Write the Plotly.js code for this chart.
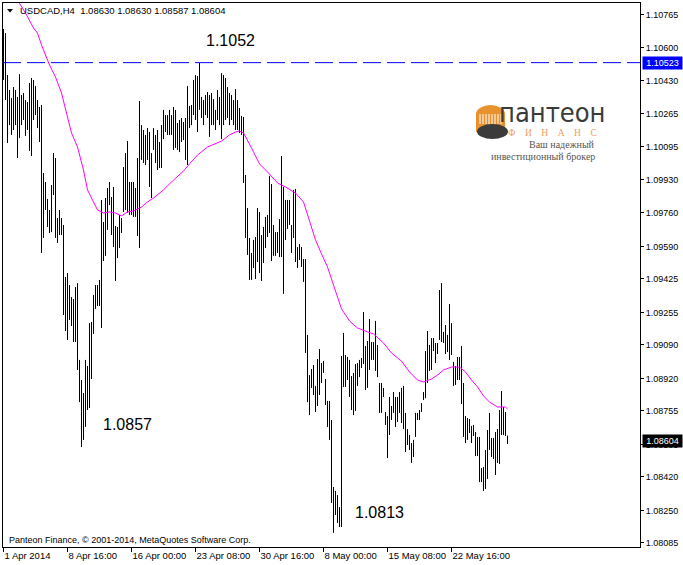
<!DOCTYPE html>
<html><head><meta charset="utf-8">
<script src="https://cdn.plot.ly/plotly-3.0.1.min.js"></script>
<style>html,body{margin:0;padding:0;background:#fff;}#chart{width:683px;height:565px;}</style>
</head><body><div id="chart"></div>
<script>
// ---- data (USDCAD H4 bars, high / low) ----
const barHighs = [
1.10694,1.10673,1.10460,1.10384,1.10344,1.10399,1.10384,1.10349,1.10465,1.10359,
1.10369,1.10333,1.10323,1.10420,1.10445,1.10435,1.10404,1.10333,1.10298,1.10308,
1.09963,1.09917,1.09831,1.09775,1.09902,1.10064,1.10039,1.09734,1.09775,1.09734,
1.09699,1.09435,1.09455,1.09394,1.09333,1.09323,1.09384,1.09404,1.09014,1.08912,
1.08846,1.09014,1.08983,1.09201,1.09207,1.09344,1.09394,1.09394,1.09420,1.09826,
1.09714,1.09836,1.09887,1.09917,1.09841,1.09892,1.09694,1.09689,1.09750,1.09734,
1.09993,1.10064,1.10125,1.09917,1.09917,1.09917,1.09887,1.10039,1.10328,1.10206,
1.10181,1.10156,1.10191,1.10171,1.10064,1.10191,1.10156,1.10181,1.10120,1.10206,
1.10283,1.10257,1.10257,1.10283,1.10257,1.10298,1.10283,1.10217,1.10232,1.10242,
1.10222,1.10242,1.10404,1.10303,1.10308,1.10435,1.10460,1.10455,1.10521,1.10349,
1.10333,1.10359,1.10374,1.10359,1.10369,1.10338,1.10283,1.10384,1.10349,1.10470,
1.10460,1.10445,1.10399,1.10369,1.10359,1.10333,1.10389,1.10333,1.10293,1.10252,
1.10247,1.09953,1.09785,1.09633,1.09557,1.09623,1.09638,1.09785,1.09765,1.09648,
1.09689,1.09740,1.09750,1.09948,1.09907,1.09699,1.09663,1.09663,1.09729,1.10049,
1.09892,1.09826,1.09826,1.09826,1.09699,1.09877,1.09882,1.09587,1.09602,1.09587,
1.09526,1.09526,1.09141,1.08937,1.08968,1.08988,1.08882,1.09019,1.09069,1.08998,
1.09009,1.08917,1.08806,1.08806,1.08709,1.08369,1.08349,1.08328,1.08267,1.09034,
1.09151,1.09039,1.09029,1.09014,1.08932,1.08948,1.08993,1.08998,1.09014,1.09024,
1.09257,1.09085,1.09110,1.09222,1.09105,1.09105,1.09212,1.09090,1.08897,1.08897,
1.08872,1.08750,1.08729,1.08826,1.08780,1.08851,1.08826,1.08826,1.08851,1.08872,
1.08882,1.08745,1.08663,1.08633,1.08592,1.08608,1.08745,1.08745,1.08760,1.08795,
1.08851,1.09059,1.09161,1.09090,1.09125,1.09125,1.09100,1.09100,1.09369,1.09404,
1.09156,1.09191,1.09141,1.09298,1.09201,1.09004,1.08983,1.09029,1.09029,1.09085,
1.08897,1.08729,1.08719,1.08714,1.08679,1.08684,1.08648,1.08623,1.08623,1.08465,
1.08470,1.08557,1.08658,1.08745,1.08618,1.08618,1.08648,1.08663,1.08760,1.08856,
1.08775,1.08750,1.08630];
const barLows = [
1.10435,1.10333,1.10115,1.10206,1.10156,1.10181,1.10206,1.10039,1.10141,1.10206,
1.10232,1.10151,1.10181,1.10075,1.10049,1.10232,1.10257,1.10191,1.10120,1.09557,
1.09633,1.09775,1.09689,1.09658,1.09663,1.09851,1.09633,1.09608,1.09648,1.09648,
1.09242,1.09161,1.09115,1.09217,1.09186,1.09105,1.09105,1.08963,1.08800,1.08572,
1.08608,1.08674,1.08760,1.08770,1.08917,1.09146,1.09273,1.09288,1.09288,1.09176,
1.09516,1.09542,1.09674,1.09800,1.09648,1.09587,1.09415,1.09531,1.09582,1.09658,
1.09765,1.09775,1.09760,1.09750,1.09750,1.09740,1.09740,1.09643,1.09582,1.10029,
1.10014,1.10003,1.10029,1.09892,1.09836,1.10080,1.10014,1.09978,1.09988,1.09988,
1.10135,1.10171,1.10156,1.10156,1.10156,1.10080,1.10090,1.10080,1.10069,1.10120,
1.10130,1.10029,1.10003,1.10191,1.10206,1.10257,1.10232,1.10171,1.10283,1.10242,
1.10206,1.10257,1.10242,1.10146,1.10206,1.10206,1.10181,1.10232,1.10206,1.10135,
1.10206,1.10232,1.10242,1.10206,1.10232,1.10206,1.10181,1.10181,1.10166,1.10156,
1.09912,1.09633,1.09547,1.09420,1.09420,1.09481,1.09425,1.09511,1.09455,1.09415,
1.09506,1.09582,1.09638,1.09658,1.09516,1.09542,1.09542,1.09557,1.09536,1.09536,
1.09349,1.09623,1.09679,1.09699,1.09557,1.09633,1.09511,1.09481,1.09521,1.09486,
1.09410,1.09049,1.08800,1.08734,1.08872,1.08836,1.08750,1.08780,1.08836,1.08897,
1.08948,1.08785,1.08674,1.08608,1.08288,1.08136,1.08227,1.08186,1.08166,1.08166,
1.08877,1.08877,1.08912,1.08826,1.08760,1.08734,1.08755,1.08882,1.08927,1.08973,
1.08993,1.08861,1.08872,1.08963,1.09014,1.09014,1.08958,1.08927,1.08745,1.08745,
1.08826,1.08684,1.08516,1.08633,1.08709,1.08745,1.08674,1.08699,1.08745,1.08694,
1.08663,1.08547,1.08582,1.08557,1.08491,1.08521,1.08623,1.08709,1.08709,1.08750,
1.08811,1.08820,1.08897,1.08958,1.08963,1.09059,1.08998,1.09044,1.09115,1.09105,
1.09100,1.09044,1.09054,1.09014,1.09039,1.08882,1.08887,1.08912,1.08912,1.08790,
1.08623,1.08592,1.08608,1.08643,1.08592,1.08628,1.08526,1.08526,1.08394,1.08394,
1.08349,1.08359,1.08410,1.08557,1.08521,1.08511,1.08430,1.08491,1.08486,1.08633,
1.08633,1.08628,1.08587];

// moving average (magenta), read at selected bars
const maBars = [7,11,15,17,19,23,26,29,32,34,37,40,42,45,47,50,53,56,59,62,65,69,72,75,80,85,90,93,97,102,
109,113,116,118,120,124,128,132,137,141,146,150,153,156,159,162,165,167,169,173,177,182,185,190,194,199,
203,207,210,214,217,220,224,228,231,234,237,240,243,247,251,252];
const maValues = [1.10841,1.10775,1.10699,1.10673,1.10613,1.10511,1.10450,1.10369,1.10247,1.10166,1.10095,
1.09978,1.09877,1.09811,1.09775,1.09760,1.09765,1.09760,1.09745,1.09765,1.09770,1.09790,1.09816,1.09836,
1.09877,1.09927,1.09973,1.10009,1.10054,1.10095,1.10125,1.10156,1.10171,1.10176,1.10166,1.10090,1.10009,
1.09968,1.09912,1.09892,1.09861,1.09816,1.09724,1.09623,1.09552,1.09486,1.09394,1.09328,1.09273,1.09212,
1.09176,1.09156,1.09146,1.09100,1.09049,1.09008,1.08953,1.08912,1.08902,1.08917,1.08937,1.08963,1.08978,
1.08978,1.08953,1.08912,1.08877,1.08831,1.08800,1.08775,1.08775,1.08765];

const timeTickBars = [0,32,64,96,128,160,192,224];
const timeTickLabels = ["1 Apr 2014","8 Apr 16:00","16 Apr 00:00","23 Apr 08:00","30 Apr 16:00","8 May 00:00","15 May 08:00","22 May 16:00"];
const priceTicks = [1.10765,1.10600,1.10430,1.10265,1.10095,1.09930,1.09760,1.09590,1.09425,1.09255,1.09090,1.08920,1.08755,1.08585,1.08420,1.08250,1.08085];
const symbolInfo = "USDCAD,H4\u00a0\u00a01.08630 1.08630 1.08587 1.08604";
const levelPrice = 1.10523;
const lastPrice = 1.08604;
const extremeLabels = ["1.1052","1.0857","1.0813"];
const copyrightText = "Panteon Finance, \u00a9 2001-2014, MetaQuotes Software Corp.";

// ---- layout geometry ----
const W = 683, H = 565, ML = 3, MT = 3, MR = 43, MB = 18;
const PW = W - ML - MR, PH = H - MT - MB;
const px = x => (x - ML) / PW;
const py = y => 1 - (y - MT) / PH;
const yTop = 1.108258, yBot = 1.080644;
const pOf = y => yTop - (y - MT) / PH * (yTop - yBot);

const FONT = "Liberation Sans, Arial, sans-serif";

// each bar drawn as a vertical high-low segment
const segX = [], segY = [];
barHighs.forEach((h, i) => { segX.push(i, i, null); segY.push(barLows[i], h, null); });

const traces = [
  {type: 'scatter', mode: 'lines', x: segX, y: segY, connectgaps: false,
   line: {color: '#000000', width: 1}, hoverinfo: 'skip'},
  {type: 'scatter', mode: 'lines', x: maBars, y: maValues,
   line: {color: '#ff00ff', width: 1}, hoverinfo: 'skip'}
];

const shapes = [
  {type: 'line', xref: 'paper', yref: 'y', x0: 0, x1: 1, y0: levelPrice, y1: levelPrice,
   line: {color: '#0000ff', width: 1, dash: '18px,6px'}},
  // title triangle
  {type: 'path', xref: 'paper', yref: 'paper',
   path: `M ${px(7)} ${py(9)} L ${px(13)} ${py(9)} L ${px(10)} ${py(12.5)} Z`,
   fillcolor: '#000', line: {width: 0}},
  // logo: orange dome
  {type: 'circle', xref: 'paper', yref: 'paper', x0: px(476), x1: px(505), y0: py(105), y1: py(123),
   fillcolor: '#e8922e', line: {width: 0}},
  {type: 'rect', xref: 'paper', yref: 'paper', x0: px(476), x1: px(505), y0: py(114), y1: py(132),
   fillcolor: '#e8922e', line: {width: 0}},
  // logo: dark base
  {type: 'circle', xref: 'paper', yref: 'paper', x0: px(477), x1: px(508), y0: py(124), y1: py(139),
   fillcolor: '#3b3b3b', line: {width: 0}}
];
[480, 483, 486, 489, 492, 495, 498, 501].forEach(c => shapes.push(
  {type: 'line', xref: 'paper', yref: 'paper', x0: px(c), x1: px(c), y0: py(114), y1: py(124),
   line: {color: '#ffffff', width: 1}}));

const annotations = [
  {text: symbolInfo, xref: 'paper', yref: 'paper', x: px(18), y: py(11), xanchor: 'left', yanchor: 'middle',
   showarrow: false, font: {family: FONT, size: 9.5, color: '#000'}},
  {text: extremeLabels[0], xref: 'x', yref: 'y', x: 113.3, y: pOf(40), showarrow: false,
   font: {family: FONT, size: 16, color: '#000'}},
  {text: extremeLabels[1], xref: 'x', yref: 'y', x: 62.0, y: pOf(424), showarrow: false,
   font: {family: FONT, size: 16, color: '#000'}},
  {text: extremeLabels[2], xref: 'x', yref: 'y', x: 188.2, y: pOf(512), showarrow: false,
   font: {family: FONT, size: 16, color: '#000'}},
  {text: copyrightText, xref: 'paper', yref: 'paper', x: px(7), y: py(539.5), xanchor: 'left', yanchor: 'middle',
   showarrow: false, font: {family: FONT, size: 9, color: '#000'}},
  {text: levelPrice.toFixed(5), xref: 'paper', yref: 'y', x: px(642), y: levelPrice, xanchor: 'left', yanchor: 'middle',
   showarrow: false, bgcolor: '#0000ff', borderpad: 1, width: 37, height: 10,
   font: {family: FONT, size: 9, color: '#ffffff'}},
  {text: lastPrice.toFixed(5), xref: 'paper', yref: 'y', x: px(642), y: lastPrice, xanchor: 'left', yanchor: 'middle',
   showarrow: false, bgcolor: '#000000', borderpad: 1, width: 37, height: 10,
   font: {family: FONT, size: 9, color: '#ffffff'}},
  // logo texts
  {text: 'пантеон', xref: 'paper', yref: 'paper', x: px(552), y: py(113), xanchor: 'center', yanchor: 'middle',
   showarrow: false, font: {family: 'Liberation Sans Narrow, DejaVu Sans Condensed, Liberation Sans', size: 27, color: '#3b3b3b'}},
  {text: 'Ф\u2003И\u2003Н\u2003А\u2003Н\u2003С', xref: 'paper', yref: 'paper', x: px(552), y: py(132.5), xanchor: 'center', yanchor: 'middle',
   showarrow: false, font: {family: 'Liberation Serif, DejaVu Serif, serif', size: 9.5, color: '#f0a060'}},
  {text: 'Ваш надежный', xref: 'paper', yref: 'paper', x: px(597), y: py(145), xanchor: 'right', yanchor: 'middle',
   showarrow: false, font: {family: 'Liberation Serif, DejaVu Serif, serif', size: 10, color: '#555555'}},
  {text: 'инвестиционный брокер', xref: 'paper', yref: 'paper', x: px(597), y: py(156.5), xanchor: 'right', yanchor: 'middle',
   showarrow: false, font: {family: 'Liberation Serif, DejaVu Serif, serif', size: 10, color: '#555555'}}
];

const layout = {
  width: W, height: H,
  margin: {l: ML, r: MR, t: MT, b: MB, pad: 0},
  paper_bgcolor: '#ffffff', plot_bgcolor: '#ffffff',
  showlegend: false, hovermode: false,
  xaxis: {range: [-0.25, 318.25], showline: true, mirror: true, linecolor: '#000', linewidth: 1,
          ticks: 'outside', ticklen: 4, tickcolor: '#000', tickwidth: 1, tickangle: 0,
          tickvals: timeTickBars, ticktext: timeTickLabels, ticklabelposition: 'outside right',
          tickfont: {family: FONT, size: 9.5, color: '#000'},
          showgrid: false, zeroline: false, fixedrange: true},
  yaxis: {range: [yBot, yTop], side: 'right', showline: true, mirror: true, linecolor: '#000', linewidth: 1,
          ticks: 'outside', ticklen: 3, tickcolor: '#000', tickwidth: 1,
          tickvals: priceTicks, ticktext: priceTicks.map(v => v.toFixed(5)),
          tickfont: {family: FONT, size: 9, color: '#000'},
          showgrid: false, zeroline: false, fixedrange: true},
  shapes: shapes,
  annotations: annotations
};

Plotly.newPlot('chart', traces, layout, {displayModeBar: false, staticPlot: true});
</script>
</body></html>
